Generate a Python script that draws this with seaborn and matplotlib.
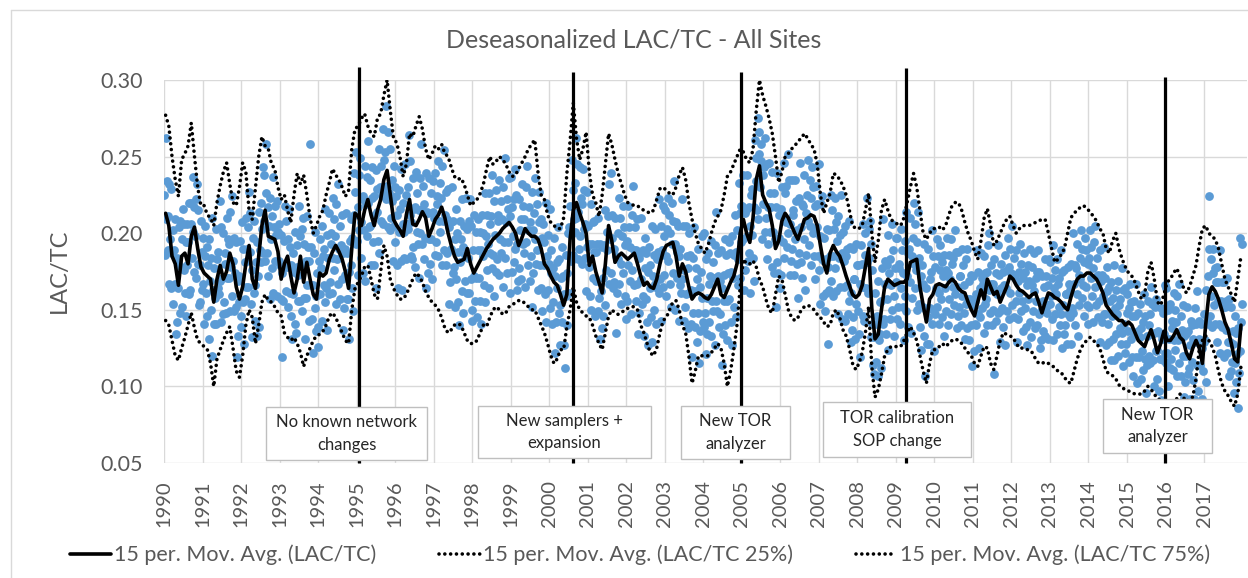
import numpy as np
import matplotlib
matplotlib.use("Agg")
import matplotlib.pyplot as plt
from matplotlib.lines import Line2D
from matplotlib.patches import Rectangle
import seaborn as sns

# ---------------------------------------------------------------
# Data: LAC/TC ratios in thousandths, one row per year 1990-2017
# ---------------------------------------------------------------
years = list(range(1990, 2018))

# 15-period moving average of the all-site LAC/TC (monthly readings)
lac_ma = [
    [213, 205, 185, 180, 166, 185, 187, 180, 198, 204, 190, 178],
    [174, 172, 170, 155, 170, 179, 170, 175, 187, 180, 165, 157],
    [165, 180, 192, 170, 164, 185, 205, 215, 198, 197, 196, 188],
    [170, 180, 185, 172, 161, 170, 185, 168, 181, 170, 160, 157],
    [174, 172, 174, 183, 188, 192, 188, 183, 175, 164, 190, 213],
    [211, 205, 215, 222, 212, 205, 215, 222, 235, 241, 225, 209],
    [205, 202, 198, 212, 222, 206, 205, 209, 214, 210, 198, 203],
    [209, 212, 217, 210, 200, 192, 185, 181, 182, 183, 190, 180],
    [174, 178, 182, 186, 190, 193, 196, 198, 200, 203, 205, 207],
    [204, 200, 192, 197, 203, 200, 198, 198, 196, 190, 180, 177],
    [172, 168, 166, 160, 153, 160, 196, 215, 220, 213, 207, 200],
    [179, 185, 175, 168, 161, 180, 205, 195, 181, 185, 187, 185],
    [183, 185, 187, 180, 172, 166, 168, 165, 164, 170, 180, 188],
    [192, 193, 194, 185, 172, 180, 175, 165, 157, 160, 161, 160],
    [158, 157, 160, 165, 170, 160, 158, 163, 168, 172, 180, 200],
    [209, 200, 194, 210, 235, 244, 225, 220, 216, 205, 190, 195],
    [208, 213, 210, 205, 200, 196, 202, 209, 210, 212, 211, 205],
    [192, 180, 174, 187, 192, 188, 185, 179, 172, 166, 160, 158],
    [160, 166, 178, 190, 151, 131, 134, 150, 165, 170, 168, 166],
    [167, 168, 168, 170, 181, 182, 183, 165, 153, 142, 157, 160],
    [166, 167, 166, 165, 168, 170, 168, 164, 162, 161, 155, 150],
    [146, 155, 163, 157, 170, 165, 160, 162, 155, 160, 165, 172],
    [170, 166, 163, 162, 160, 158, 160, 161, 155, 148, 155, 161],
    [160, 158, 157, 155, 152, 150, 158, 165, 170, 172, 172, 174],
    [174, 172, 170, 166, 161, 153, 150, 147, 145, 143, 143, 140],
    [142, 140, 135, 130, 128, 126, 132, 137, 130, 122, 128, 136],
    [130, 130, 133, 137, 132, 130, 122, 118, 125, 130, 125, 115],
    [140, 160, 165, 162, 157, 150, 142, 137, 128, 118, 116, 140],
]

# 15-period moving average of the 25th percentile across sites
lac25_ma = [
    [143, 140, 130, 120, 117, 125, 132, 140, 148, 138, 130, 128],
    [126, 124, 115, 100, 118, 124, 130, 135, 139, 125, 110, 106],
    [120, 140, 150, 145, 128, 140, 155, 160, 156, 155, 152, 148],
    [146, 135, 132, 130, 132, 128, 122, 113, 120, 125, 130, 133],
    [134, 136, 140, 146, 148, 145, 140, 135, 130, 128, 150, 164],
    [168, 172, 178, 179, 170, 160, 157, 175, 192, 185, 170, 164],
    [160, 157, 157, 160, 165, 170, 174, 172, 168, 162, 158, 155],
    [153, 150, 145, 138, 135, 137, 140, 141, 140, 135, 130, 128],
    [128, 130, 135, 140, 139, 145, 150, 152, 150, 147, 148, 152],
    [153, 155, 156, 156, 154, 152, 150, 150, 145, 140, 135, 128],
    [120, 115, 118, 124, 124, 139, 150, 165, 155, 150, 148, 146],
    [145, 140, 133, 128, 124, 135, 146, 150, 148, 147, 148, 150],
    [151, 152, 152, 150, 140, 135, 128, 122, 120, 125, 135, 143],
    [145, 150, 155, 156, 150, 140, 135, 120, 102, 110, 120, 120],
    [120, 120, 122, 125, 128, 125, 115, 100, 110, 124, 140, 165],
    [183, 180, 180, 182, 178, 170, 165, 157, 150, 148, 160, 172],
    [170, 160, 150, 145, 143, 145, 150, 152, 153, 152, 150, 147],
    [145, 142, 139, 140, 148, 150, 145, 137, 133, 125, 115, 111],
    [115, 122, 135, 152, 113, 93, 98, 108, 120, 124, 126, 126],
    [126, 126, 130, 135, 139, 135, 130, 120, 110, 102, 115, 124],
    [124, 126, 128, 126, 128, 130, 131, 130, 128, 125, 122, 120],
    [115, 113, 120, 126, 125, 115, 111, 120, 130, 135, 134, 133],
    [132, 128, 125, 125, 124, 124, 122, 118, 115, 115, 116, 115],
    [114, 112, 110, 109, 106, 103, 102, 110, 118, 124, 128, 130],
    [132, 130, 128, 125, 118, 110, 108, 107, 105, 101, 99, 98],
    [97, 96, 95, 95, 95, 97, 100, 98, 95, 92, 91, 90],
    [88, 87, 89, 92, 95, 93, 90, 92, 93, 105, 124, 130],
    [133, 130, 126, 120, 110, 102, 97, 94, 90, 87, 95, 113],
]

# 15-period moving average of the 75th percentile across sites
lac75_ma = [
    [277, 270, 250, 235, 224, 248, 252, 257, 272, 250, 230, 218],
    [218, 212, 210, 205, 220, 231, 240, 246, 232, 220, 218, 230],
    [246, 240, 215, 209, 230, 250, 263, 257, 255, 245, 242, 230],
    [222, 225, 215, 207, 225, 239, 232, 238, 225, 210, 200, 205],
    [211, 215, 225, 233, 242, 238, 235, 230, 224, 228, 255, 268],
    [270, 275, 278, 270, 265, 263, 275, 278, 290, 300, 280, 262],
    [259, 250, 237, 245, 265, 263, 270, 276, 268, 255, 248, 252],
    [257, 255, 258, 252, 250, 243, 237, 235, 236, 232, 225, 218],
    [220, 222, 226, 232, 242, 250, 245, 247, 250, 248, 245, 240],
    [237, 238, 242, 246, 250, 255, 258, 261, 240, 225, 222, 212],
    [207, 205, 203, 203, 210, 239, 260, 285, 262, 248, 255, 266],
    [240, 225, 220, 211, 225, 245, 265, 258, 248, 239, 232, 225],
    [220, 219, 218, 218, 216, 215, 214, 213, 215, 222, 229, 230],
    [228, 226, 225, 230, 238, 243, 235, 220, 209, 200, 193, 190],
    [187, 192, 200, 207, 211, 215, 225, 237, 240, 245, 250, 255],
    [253, 248, 246, 255, 280, 300, 290, 283, 275, 265, 250, 233],
    [240, 250, 252, 255, 257, 260, 262, 265, 262, 258, 255, 245],
    [225, 213, 220, 226, 239, 238, 235, 231, 225, 215, 205, 203],
    [203, 205, 215, 226, 200, 181, 195, 215, 222, 215, 209, 207],
    [206, 205, 210, 220, 230, 239, 230, 215, 200, 196, 200, 203],
    [203, 204, 202, 205, 212, 218, 220, 220, 215, 207, 200, 195],
    [188, 183, 195, 210, 216, 205, 192, 195, 200, 205, 209, 211],
    [205, 200, 203, 205, 205, 205, 206, 207, 208, 209, 209, 200],
    [190, 181, 183, 186, 190, 200, 210, 213, 215, 217, 218, 216],
    [214, 211, 208, 203, 200, 190, 187, 195, 200, 190, 183, 178],
    [174, 172, 168, 162, 157, 160, 175, 181, 170, 155, 153, 160],
    [168, 170, 174, 177, 172, 165, 161, 165, 172, 179, 192, 203],
    [205, 200, 198, 196, 190, 180, 170, 165, 160, 155, 170, 185],
]

# Individual deseasonalized LAC/TC readings, 60 per year
lac_obs = [
    [225, 186, 262, 209, 234, 189, 211, 167, 232, 196, 229, 164, 187, 202, 154,
     189, 167, 209, 134, 184, 142, 181, 164, 204, 148, 208, 178, 152, 196, 216,
     176, 206, 161, 194, 146, 206, 179, 194, 160, 220, 163, 206, 220, 184, 201,
     237, 175, 217, 198, 222, 171, 232, 180, 215, 153, 179, 155, 208, 163, 188],
    [197, 167, 141, 185, 205, 161, 191, 146, 179, 131, 196, 169, 184, 150, 210,
     120, 163, 177, 141, 158, 203, 141, 183, 164, 188, 160, 221, 169, 204, 142,
     171, 147, 200, 155, 180, 187, 148, 210, 171, 196, 171, 193, 149, 214, 178,
     224, 159, 182, 197, 149, 174, 152, 194, 119, 169, 133, 172, 155, 195, 139],
    [146, 207, 155, 190, 128, 181, 157, 210, 165, 190, 204, 165, 227, 188, 213,
     154, 176, 132, 197, 161, 208, 143, 166, 181, 133, 194, 172, 214, 139, 189,
     181, 220, 203, 243, 187, 238, 208, 182, 226, 258, 187, 217, 172, 205, 157,
     223, 196, 211, 177, 237, 161, 204, 218, 182, 199, 221, 159, 201, 182, 206],
    [179, 157, 199, 119, 174, 156, 195, 178, 218, 162, 208, 178, 152, 196, 216,
     161, 191, 146, 179, 131, 187, 160, 175, 141, 201, 135, 178, 192, 156, 173,
     218, 156, 198, 179, 203, 149, 210, 158, 193, 131, 182, 158, 211, 166, 191,
     182, 143, 258, 166, 191, 144, 166, 122, 187, 151, 201, 136, 159, 174, 126],
    [139, 182, 196, 160, 177, 205, 143, 185, 166, 190, 155, 216, 164, 199, 137,
     184, 160, 213, 168, 193, 200, 161, 223, 184, 209, 176, 198, 154, 219, 183,
     232, 167, 190, 205, 157, 192, 170, 212, 137, 187, 151, 190, 173, 213, 157,
     187, 157, 131, 175, 195, 179, 209, 164, 197, 149, 239, 212, 227, 193, 253],
    [195, 217, 173, 238, 202, 249, 184, 207, 222, 174, 224, 202, 244, 169, 219,
     198, 237, 220, 260, 204, 235, 205, 179, 223, 243, 194, 224, 179, 212, 164,
     241, 214, 229, 195, 255, 187, 230, 244, 208, 225, 268, 206, 248, 229, 253,
     222, 283, 231, 266, 204, 226, 202, 255, 210, 235, 221, 182, 244, 205, 230],
    [194, 224, 179, 212, 164, 228, 201, 216, 182, 242, 163, 206, 220, 184, 201,
     245, 183, 225, 206, 230, 203, 264, 212, 247, 185, 207, 183, 236, 191, 216,
     217, 178, 240, 201, 226, 193, 215, 171, 236, 200, 258, 193, 216, 231, 183,
     219, 197, 239, 164, 214, 174, 213, 196, 236, 180, 226, 196, 170, 214, 234],
    [210, 186, 239, 194, 219, 224, 185, 247, 208, 233, 201, 223, 179, 244, 208,
     254, 189, 212, 227, 179, 209, 187, 229, 154, 204, 168, 207, 190, 230, 174,
     208, 178, 152, 196, 216, 170, 200, 155, 188, 140, 208, 181, 196, 162, 222,
     148, 191, 205, 169, 186, 223, 161, 203, 184, 208, 161, 222, 170, 205, 143],
    [150, 189, 172, 212, 156, 201, 171, 145, 189, 209, 171, 201, 156, 189, 141,
     212, 185, 200, 166, 226, 155, 198, 212, 176, 193, 226, 164, 206, 187, 211,
     177, 238, 186, 221, 159, 199, 175, 228, 183, 208, 212, 173, 235, 196, 221,
     187, 209, 165, 230, 194, 249, 184, 207, 222, 174, 216, 194, 236, 161, 211],
    [237, 175, 217, 198, 222, 181, 242, 190, 225, 163, 193, 169, 222, 177, 202,
     209, 170, 232, 193, 218, 187, 209, 165, 230, 194, 244, 179, 202, 217, 169,
     207, 185, 227, 152, 202, 174, 213, 196, 236, 180, 219, 189, 163, 207, 227,
     179, 209, 164, 197, 149, 206, 179, 194, 160, 220, 142, 185, 199, 163, 180],
    [216, 151, 174, 189, 141, 177, 155, 197, 122, 172, 142, 181, 164, 204, 148,
     183, 153, 127, 171, 191, 142, 172, 127, 160, 112, 186, 159, 174, 140, 200,
     161, 204, 218, 182, 199, 248, 186, 228, 209, 233, 201, 262, 210, 245, 183,
     214, 190, 243, 198, 223, 219, 180, 242, 203, 228, 184, 206, 162, 227, 191],
    [205, 178, 193, 159, 219, 150, 193, 207, 171, 188, 208, 146, 188, 169, 193,
     149, 210, 158, 193, 131, 162, 138, 191, 146, 171, 192, 153, 215, 176, 201,
     189, 211, 167, 232, 196, 239, 174, 197, 212, 164, 190, 168, 210, 135, 185,
     161, 200, 183, 223, 167, 210, 180, 154, 198, 218, 174, 204, 159, 192, 144],
    [195, 156, 218, 179, 204, 169, 191, 147, 212, 176, 231, 166, 189, 204, 156,
     189, 167, 209, 134, 184, 148, 187, 170, 210, 154, 189, 159, 133, 177, 197,
     157, 187, 142, 175, 127, 191, 164, 179, 145, 205, 129, 172, 186, 150, 167,
     203, 141, 183, 164, 188, 161, 222, 170, 205, 143, 189, 165, 218, 173, 198],
    [215, 185, 159, 203, 223, 182, 212, 167, 200, 152, 220, 193, 208, 174, 234,
     150, 193, 207, 171, 188, 205, 143, 185, 166, 190, 161, 222, 170, 205, 143,
     176, 152, 205, 160, 185, 177, 138, 200, 161, 186, 141, 163, 119, 184, 148,
     204, 139, 162, 177, 129, 170, 148, 190, 115, 165, 136, 175, 158, 198, 142],
    [139, 200, 148, 183, 121, 158, 134, 187, 142, 167, 172, 133, 195, 156, 181,
     149, 171, 127, 192, 156, 214, 149, 172, 187, 139, 169, 147, 189, 114, 164,
     134, 173, 156, 196, 140, 186, 156, 130, 174, 194, 157, 187, 142, 175, 127,
     198, 171, 186, 152, 212, 145, 188, 202, 166, 183, 233, 171, 213, 194, 218],
    [218, 196, 238, 163, 213, 176, 215, 198, 238, 182, 217, 187, 161, 205, 225,
     199, 229, 184, 217, 169, 261, 234, 249, 215, 275, 209, 252, 266, 230, 247,
     258, 196, 238, 219, 243, 201, 262, 210, 245, 183, 217, 193, 246, 201, 226,
     217, 178, 240, 201, 226, 174, 196, 152, 217, 181, 239, 174, 197, 212, 164],
    [173, 216, 230, 194, 211, 246, 184, 226, 207, 231, 191, 252, 200, 235, 173,
     206, 182, 235, 190, 215, 212, 173, 235, 196, 221, 180, 202, 158, 223, 187,
     246, 181, 204, 219, 171, 218, 196, 238, 163, 213, 186, 225, 208, 248, 192,
     235, 205, 179, 223, 243, 200, 230, 185, 218, 170, 231, 204, 219, 185, 245],
    [176, 198, 154, 219, 183, 224, 159, 182, 197, 149, 183, 161, 203, 128, 178,
     163, 202, 185, 225, 169, 215, 185, 159, 203, 223, 177, 207, 162, 195, 147,
     211, 184, 199, 165, 225, 144, 187, 201, 165, 182, 205, 143, 185, 166, 190,
     147, 208, 156, 191, 129, 161, 137, 190, 145, 170, 170, 131, 193, 154, 179],
    [149, 179, 134, 167, 119, 192, 165, 180, 146, 206, 143, 186, 200, 164, 181,
     223, 161, 203, 184, 208, 132, 193, 141, 176, 114, 132, 108, 161, 116, 141,
     146, 107, 169, 130, 155, 134, 156, 112, 177, 141, 209, 144, 167, 182, 134,
     179, 157, 199, 124, 174, 144, 183, 166, 206, 150, 189, 159, 133, 177, 197],
    [168, 144, 197, 152, 177, 180, 141, 203, 164, 189, 152, 174, 130, 195, 159,
     214, 149, 172, 187, 139, 190, 168, 210, 135, 185, 158, 197, 180, 220, 164,
     206, 176, 150, 194, 214, 154, 184, 139, 172, 124, 179, 152, 167, 133, 193,
     107, 150, 164, 128, 145, 190, 128, 170, 151, 175, 141, 202, 150, 185, 123],
    [147, 178, 164, 196, 152, 185, 161, 141, 176, 192, 157, 181, 145, 172, 133,
     186, 164, 176, 149, 197, 140, 174, 186, 157, 170, 196, 147, 180, 165, 184,
     153, 202, 160, 188, 138, 165, 146, 188, 152, 172, 172, 140, 190, 159, 179,
     148, 166, 131, 183, 154, 190, 138, 157, 169, 130, 157, 140, 173, 113, 153],
    [172, 123, 156, 141, 160, 140, 189, 147, 175, 125, 164, 145, 187, 151, 171,
     167, 135, 185, 154, 174, 157, 175, 140, 192, 163, 200, 148, 167, 179, 140,
     167, 150, 183, 108, 163, 143, 174, 160, 192, 148, 173, 149, 129, 164, 180,
     151, 175, 139, 166, 127, 186, 164, 176, 149, 197, 144, 178, 190, 161, 174],
    [205, 153, 172, 184, 145, 173, 156, 189, 129, 169, 144, 175, 161, 193, 149,
     180, 156, 136, 171, 187, 151, 175, 139, 166, 127, 179, 157, 169, 142, 190,
     132, 166, 178, 149, 162, 187, 138, 171, 156, 175, 140, 189, 147, 175, 125,
     149, 130, 172, 136, 156, 165, 133, 183, 152, 172, 148, 166, 131, 183, 154],
    [181, 159, 171, 144, 192, 130, 164, 176, 147, 160, 183, 134, 167, 152, 171,
     140, 189, 147, 175, 125, 153, 134, 176, 140, 160, 160, 128, 178, 147, 167,
     145, 163, 128, 180, 151, 200, 148, 167, 179, 140, 177, 160, 193, 133, 173,
     153, 184, 170, 202, 158, 190, 166, 146, 181, 197, 165, 189, 153, 180, 141],
    [184, 152, 202, 171, 191, 159, 177, 142, 194, 165, 205, 153, 172, 184, 145,
     173, 156, 189, 129, 169, 142, 173, 159, 191, 147, 171, 147, 127, 162, 178,
     141, 165, 129, 156, 117, 168, 146, 158, 131, 179, 117, 151, 163, 134, 147,
     169, 120, 153, 138, 157, 128, 177, 135, 163, 113, 141, 122, 164, 128, 148],
    [160, 136, 116, 151, 167, 131, 155, 119, 146, 107, 156, 134, 146, 119, 167,
     102, 136, 148, 119, 132, 154, 105, 138, 123, 142, 111, 160, 118, 146, 96,
     133, 114, 156, 120, 140, 147, 115, 165, 134, 154, 117, 135, 100, 152, 123,
     157, 105, 124, 136, 97, 135, 118, 151, 91, 131, 117, 148, 134, 166, 122],
    [115, 164, 122, 150, 100, 131, 112, 154, 118, 138, 143, 111, 161, 130, 150,
     124, 142, 107, 159, 130, 167, 115, 134, 146, 107, 137, 120, 153, 93, 133,
     103, 134, 120, 152, 108, 136, 112, 92, 127, 143, 116, 140, 104, 131, 92,
     151, 129, 141, 114, 162, 97, 131, 143, 114, 127, 141, 92, 125, 110, 129],
    [147, 130, 163, 103, 143, 141, 172, 224, 190, 146, 183, 159, 139, 174, 190,
     153, 177, 141, 168, 129, 178, 156, 168, 141, 189, 122, 156, 168, 139, 152,
     168, 119, 152, 137, 156, 122, 171, 129, 157, 107, 129, 110, 152, 116, 136,
     128, 96, 146, 115, 135, 103, 121, 86, 138, 109, 197, 123, 142, 154, 193],
]

# Network events and their annotation text
event_years = [1995.05, 2000.62, 2004.98, 2009.25, 2015.98]
event_tops = [0.3084, 0.3050, 0.3050, 0.3078, 0.3020]
event_labels = [
    "No known network\nchanges",
    "New samplers +\nexpansion",
    "New TOR\nanalyzer",
    "TOR calibration\nSOP change",
    "New TOR\nanalyzer",
]
# label boxes in pixel coordinates: left, top, right, bottom
event_boxes = [
    (266, 407, 427, 460),
    (478, 406, 651, 458),
    (681, 406, 790, 459),
    (823, 402, 971, 457),
    (1103, 399, 1212, 453),
]

# ---------------------------------------------------------------
# Time axes (decimal years)
# ---------------------------------------------------------------
yr = np.array(years, dtype=float)
t_month = (yr[:, None] + (np.arange(12) + 0.5) / 12).ravel()
t_obs = (yr[:, None] + (np.arange(60) + 0.5) / 60).ravel()

med = np.array(lac_ma).ravel() / 1000
p25 = np.array(lac25_ma).ravel() / 1000
p75 = np.array(lac75_ma).ravel() / 1000
obs = np.array(lac_obs).ravel() / 1000

# ---------------------------------------------------------------
# Figure
# ---------------------------------------------------------------
sns.set_theme(style="white")
plt.rcParams["font.family"] = ["Lato", "DejaVu Sans"]

W, H = 1248, 578
fig = plt.figure(figsize=(W / 100, H / 100), dpi=100)
fig.patch.set_facecolor("white")

x0, x1, ytop, ybot = 164, 1247, 80, 463
ax = fig.add_axes([x0 / W, 1 - ybot / H, (x1 - x0) / W, (ybot - ytop) / H])
ax.set_facecolor("white")

BLUE = "#5B9BD5"
GREY = "#595959"

sns.scatterplot(x=t_obs, y=obs, color=BLUE, s=40, linewidth=0,
                ax=ax, zorder=2, legend=False)

dot_style = dict(linestyle=(0, (0.01, 1.6)), dash_capstyle="round", lw=2.6)
sns.lineplot(x=t_month, y=p75, color="black", estimator=None, sort=False,
             ax=ax, zorder=3, **dot_style)
sns.lineplot(x=t_month, y=p25, color="black", estimator=None, sort=False,
             ax=ax, zorder=3, **dot_style)
sns.lineplot(x=t_month, y=med, color="black", estimator=None, sort=False,
             lw=2.6, ax=ax, zorder=4)

ax.set_xlim(1990, 1990 + (x1 - x0) / 38.52)
ax.set_ylim(0.05, 0.30)
yt = [0.05, 0.10, 0.15, 0.20, 0.25, 0.30]
ax.set_yticks(yt)
ax.set_yticklabels([f"{v:.2f}" for v in yt])
ax.set_xticks(years)
ax.set_xticklabels([str(y) for y in years], rotation=90)
ax.tick_params(axis="y", labelsize=15.5, colors=GREY, length=0, pad=15)
ax.tick_params(axis="x", labelsize=14.5, colors=GREY, length=0, pad=12.5)
ax.grid(True, color="#D9D9D9", lw=1)
ax.set_axisbelow(True)
for s in ax.spines.values():
    s.set_visible(False)
ax.set_xlabel("")
ax.set_ylabel("")

# event markers
for ex, etop in zip(event_years, event_tops):
    ax.plot([ex, ex], [0.05, etop], color="black", lw=2.3,
            clip_on=False, zorder=5, solid_capstyle="butt")

# event label boxes
for label, (l, t, r, b) in zip(event_labels, event_boxes):
    fig.patches.append(Rectangle((l / W, 1 - b / H), (r - l) / W, (b - t) / H,
                                 transform=fig.transFigure, facecolor="white",
                                 edgecolor="#BFBFBF", lw=1, zorder=6))
    fig.text((l + r) / 2 / W, 1 - (t + b) / 2 / H, label, ha="center",
             va="center", fontsize=12, color="#262626", linespacing=1.5,
             zorder=7)

# title and axis label
fig.text(634 / W, 1 - 40 / H, "Deseasonalized LAC/TC - All Sites",
         ha="center", va="center", fontsize=18, color=GREY)
fig.text(59 / W, 1 - 271 / H, "LAC/TC", rotation=90, ha="center",
         va="center", fontsize=17, color=GREY)

# chart-area border
fig.add_artist(Line2D([10.5 / W, 10.5 / W], [0, 1 - 9.5 / H],
                      transform=fig.transFigure, color="#D9D9D9", lw=1))
fig.add_artist(Line2D([10.5 / W, 1], [1 - 9.5 / H, 1 - 9.5 / H],
                      transform=fig.transFigure, color="#D9D9D9", lw=1))

# legend
handles = [
    Line2D([], [], color="black", lw=2.6),
    Line2D([], [], color="black", **dot_style),
    Line2D([], [], color="black", **dot_style),
]
labels = ["15 per. Mov. Avg. (LAC/TC)", "15 per. Mov. Avg. (LAC/TC 25%)",
          "15 per. Mov. Avg. (LAC/TC 75%)"]
fig.legend(handles, labels, loc="center", bbox_to_anchor=(640 / W, 1 - 555 / H),
           ncol=3, frameon=False, fontsize=15.5, handlelength=1.9,
           handletextpad=0.15, columnspacing=2.9, labelcolor=GREY)

fig.savefig("out.png", dpi=100)
